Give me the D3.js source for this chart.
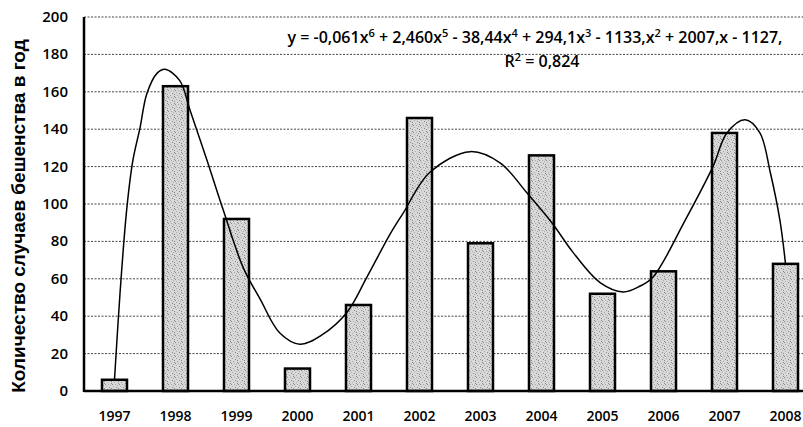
<!DOCTYPE html>
<html>
<head>
<meta charset="utf-8">
<script src="https://cdn.jsdelivr.net/npm/d3@7"></script>
<style>
  body { margin: 0; background: #fff; }
  svg { display: block; }
</style>
</head>
<body>
<script>
var years = [1997, 1998, 1999, 2000, 2001, 2002, 2003, 2004, 2005, 2006, 2007, 2008];
var cases = [6, 163, 92, 12, 46, 146, 79, 126, 52, 64, 138, 68];

// trend line (year, value)
var trendYear = [1997.0, 1997.09, 1997.2, 1997.3, 1997.42, 1997.53, 1997.7, 1997.83,
                 1998.07, 1998.24, 1998.52, 1998.78, 1999.11, 1999.39, 1999.71, 2000.04,
                 2000.4, 2000.81, 2001.14, 2001.52, 2001.73, 2002.17, 2002.83, 2003.32,
                 2003.76, 2004.17, 2004.52, 2004.96, 2005.34, 2005.61, 2005.83, 2006.35,
                 2006.81, 2007.04, 2007.34, 2007.58, 2007.75, 2007.91, 2008.0];
var trendValue = [6, 52, 97, 123, 141, 159, 170, 172,
                  166, 150, 123, 97, 66, 49, 31, 25,
                  30, 42, 61, 84, 95, 117, 128, 122,
                  106, 90, 74, 58, 53, 56, 61, 91,
                  120, 138, 145, 138, 117, 91, 68];

var yTicks = [0, 20, 40, 60, 80, 100, 120, 140, 160, 180, 200];
var yTitle = "Количество случаев бешенства в год";
var eqLine1 = [["y = -0,061x", ""], ["6", "sup"], [" + 2,460x", ""], ["5", "sup"], [" - 38,44x", ""], ["4", "sup"],
               [" + 294,1x", ""], ["3", "sup"], [" - 1133,x", ""], ["2", "sup"], [" + 2007,x - 1127,", ""]];
var eqLine2 = [["R", ""], ["2", "sup"], [" = 0,824", ""]];

var width = 803, height = 427;
var plotLeft = 84, plotRight = 816, plotTop = 17, plotBottom = 391;

var svg = d3.select("body").append("svg")
  .attr("width", width).attr("height", height);

var defs = svg.append("defs");
var pat = defs.append("pattern").attr("id", "stipple")
  .attr("patternUnits", "userSpaceOnUse").attr("width", 7).attr("height", 7);
pat.append("rect").attr("width", 7).attr("height", 7).attr("fill", "#d8d8d8");
[[1, 1], [4, 2], [2, 4], [6, 5], [5, 0], [0, 6], [3, 6], [6, 3]].forEach(function(p, i) {
  pat.append("rect").attr("x", p[0]).attr("y", p[1]).attr("width", 1).attr("height", 1)
    .attr("fill", i % 2 ? "#8a8a8a" : "#aaaaaa");
});

var x = d3.scaleLinear().domain([1996.5, 2008.5]).range([plotLeft, plotRight]);
var y = d3.scaleLinear().domain([0, 200]).range([plotBottom, plotTop]);
var barW = (x(1998) - x(1997)) * 0.41;

// grid
svg.append("g").selectAll("line").data(yTicks.filter(function(d) { return d > 0; }))
  .enter().append("line")
  .attr("x1", plotLeft).attr("x2", width)
  .attr("y1", function(d) { return y(d); }).attr("y2", function(d) { return y(d); })
  .attr("stroke", "#444").attr("stroke-width", 1)
  .attr("stroke-dasharray", "2,1.5");

// bars
svg.append("g").selectAll("rect").data(years).enter().append("rect")
  .attr("x", function(d) { return x(d) - barW / 2; })
  .attr("y", function(d, i) { return y(cases[i]); })
  .attr("width", barW)
  .attr("height", function(d, i) { return plotBottom - y(cases[i]); })
  .attr("fill", "url(#stipple)")
  .attr("stroke", "#000").attr("stroke-width", 2.5);

// trend
var line = d3.line()
  .x(function(d, i) { return x(trendYear[i]); })
  .y(function(d) { return y(d); })
  .curve(d3.curveCatmullRom.alpha(0.5));
svg.append("path").datum(trendValue)
  .attr("d", line).attr("fill", "none")
  .attr("stroke", "#000").attr("stroke-width", 1.5);

// axes
svg.append("line").attr("x1", plotLeft).attr("x2", plotLeft).attr("y1", plotTop).attr("y2", plotBottom + 1)
  .attr("stroke", "#000").attr("stroke-width", 2.5);
svg.append("line").attr("x1", plotLeft).attr("x2", width).attr("y1", plotBottom).attr("y2", plotBottom)
  .attr("stroke", "#000").attr("stroke-width", 2.5);

svg.append("g").selectAll("text").data(yTicks).enter().append("text")
  .attr("x", 68).attr("y", function(d) { return y(d) + 5; })
  .attr("text-anchor", "end")
  .style("font-family", "'Open Sans', sans-serif").style("font-size", "15px")
  .style("font-weight", 600)
  .text(function(d) { return d; });

svg.append("g").selectAll("text").data(years).enter().append("text")
  .attr("x", function(d) { return x(d); }).attr("y", 421)
  .attr("text-anchor", "middle")
  .style("font-family", "'Open Sans', sans-serif").style("font-size", "14px")
  .style("font-weight", 600)
  .text(function(d) { return d; });

svg.append("text")
  .attr("transform", "translate(25," + 216 + ") rotate(-90)")
  .attr("text-anchor", "middle")
  .style("font-family", "'Liberation Sans', Arial, sans-serif").style("font-size", "19px")
  .style("font-weight", "bold")
  .text(yTitle);

function equation(parts, cx, cy) {
  var t = svg.append("text").attr("x", cx).attr("y", cy).attr("text-anchor", "middle")
    .style("font-family", "'Open Sans', sans-serif").style("font-size", "16px")
    .style("font-weight", 600);
  parts.forEach(function(p, i) {
    var s = t.append("tspan").text(p[0]);
    if (p[1] === "sup") s.attr("dy", -6).style("font-size", "11px");
    else if (i > 0) s.attr("dy", 6);
  });
  return t;
}
equation(eqLine1, 535, 43);
equation(eqLine2, 542, 67);
</script>
</body>
</html>
